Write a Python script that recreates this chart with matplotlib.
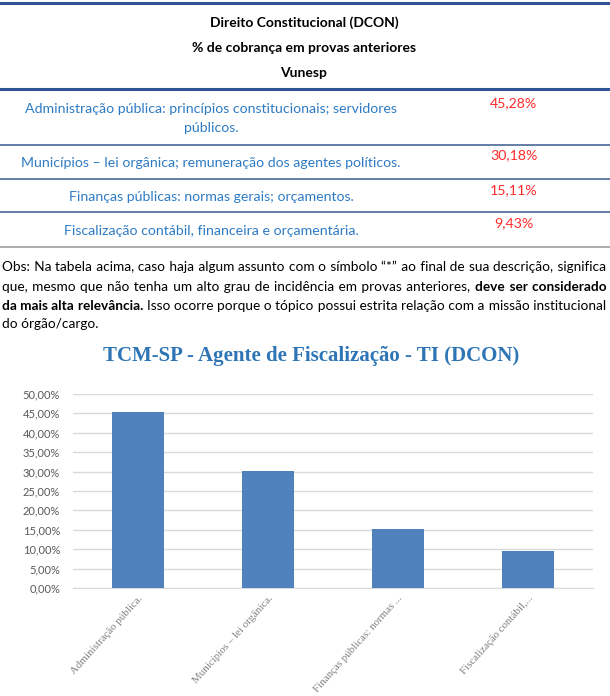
import matplotlib
matplotlib.use("Agg")
import matplotlib.pyplot as plt
from matplotlib.lines import Line2D
from matplotlib.ticker import FuncFormatter, MultipleLocator

# table / chart data
header_lines = ["Direito Constitucional (DCON)", "% de cobrança em provas anteriores", "Vunesp"]
topics = [
    "Administração pública: princípios constitucionais; servidores\npúblicos.",
    "Municípios – lei orgânica; remuneração dos agentes políticos.",
    "Finanças públicas: normas gerais; orçamentos.",
    "Fiscalização contábil, financeira e orçamentária.",
]
shares = [45.28, 30.18, 15.11, 9.43]
short_labels = ["Administração pública.", "Municípios – lei orgânica.",
                "Finanças públicas: normas ...", "Fiscalização contábil,..."]
chart_title = "TCM-SP - Agente de Fiscalização - TI (DCON)"

# observation paragraph: lines of (text, weight) chunks
obs_lines = [
    [("Obs: Na tabela acima, caso haja algum assunto com o símbolo “*” ao final de sua descrição, significa", 'normal')],
    [("que, mesmo que não tenha um alto grau de incidência em provas anteriores,", 'normal'),
     ("deve ser considerado", 'bold')],
    [("da mais alta relevância.", 'bold'),
     ("Isso ocorre porque o tópico possui estrita relação com a missão institucional", 'normal')],
    [("do órgão/cargo.", 'normal')],
]

W, H = 610, 696
plt.rcParams['font.family'] = ['Lato', 'DejaVu Sans']
fig = plt.figure(figsize=(W / 100, H / 100), dpi=100)
renderer = fig.canvas.get_renderer()


def fx(px):
    return px / W


def fy(py):
    return 1 - py / H


def hline(py, color, lw):
    fig.add_artist(Line2D([0, 1], [fy(py), fy(py)], transform=fig.transFigure,
                          color=color, lw=lw))


def text_w(s, size, weight):
    t = fig.text(0, 0, s, fontsize=size, fontweight=weight)
    w = t.get_window_extent(renderer).width
    t.remove()
    return w


# table
hline(3, '#2F5496', 2.2)
for i, txt in enumerate(header_lines):
    fig.text(fx(304), fy(23 + 25 * i), txt, ha='center', va='center',
             fontsize=10, fontweight='bold', color='black')
hline(89, '#2F5496', 2.2)

row_text_y = [109, 163, 197, 231]
row_val_y = [103, 155, 190, 223]
for i, (topic, val) in enumerate(zip(topics, shares)):
    for j, part in enumerate(topic.split('\n')):
        fig.text(fx(211), fy(row_text_y[i] + 19 * j), part, ha='center', va='center',
                 fontsize=10.2, color='#2E7BC4')
    fig.text(fx(514), fy(row_val_y[i]), f"{val:.2f}%".replace('.', ','), ha='center',
             va='center', fontsize=10.2, color='#FF2B2B')
for py in [145, 179, 212]:
    hline(py, '#3B5A8C', 1.1)
hline(247, '#A6A6A6', 1.3)

# justified paragraph: spaces widened with hair spaces
fs = 9.8
HAIR = '\u200a'
obs_base = [271, 291, 310, 328]
left, right = 2, 606
sp = text_w("x x", fs, 'normal') - text_w("xx", fs, 'normal')
hs = (text_w("x" + HAIR * 10 + "x", fs, 'normal') - text_w("xx", fs, 'normal')) / 10
for n, (line, py) in enumerate(zip(obs_lines, obs_base)):
    last = n == len(obs_lines) - 1
    nat = sum(text_w(c, fs, wt) for c, wt in line) + sp * (len(line) - 1)
    gaps = sum(len(c.split()) for c, _ in line) - 1
    extra = 0 if last else (right - left - nat) / gaps
    acc = 0.0
    xpos = left
    for ci, (chunk, wt) in enumerate(line):
        words = chunk.split()
        s = words[0]
        for w in words[1:]:
            acc += extra
            k = int(round(acc / hs))
            acc -= k * hs
            s += ' ' + HAIR * k + w
        t = fig.text(fx(xpos), fy(py), s, ha='left', va='baseline', fontsize=fs,
                     fontweight=wt, color='black')
        xpos += t.get_window_extent(renderer).width + sp + extra

# chart title
fig.text(fx(311), fy(356), chart_title, ha='center', va='center', fontsize=15,
         fontweight='bold', color='#2E75B6', family='Liberation Serif')

# bar chart
ax = fig.add_axes([fx(72.5), fy(588), fx(593) - fx(72.5), fy(394) - fy(588)])
x = list(range(len(shares)))
ax.bar(x, [v / 100 for v in shares], width=0.40, color='#4F81BD', zorder=3)
ax.set_xlim(-0.5, len(shares) - 0.5)
ax.set_ylim(0, 0.5)
ax.yaxis.set_major_locator(MultipleLocator(0.05))
ax.yaxis.set_major_formatter(FuncFormatter(lambda v, p: f"{v * 100:.2f}%".replace('.', ',')))
ax.grid(axis='y', color='#D9D9D9', lw=1, zorder=0)
for s in ['top', 'right', 'left']:
    ax.spines[s].set_visible(False)
ax.spines['bottom'].set_color('#D9D9D9')
ax.tick_params(axis='both', length=0, colors='#595959', labelsize=8)
ax.tick_params(axis='y', pad=9)
ax.tick_params(axis='x', pad=4)
ax.set_xticks(x)
ax.set_xticklabels(short_labels, rotation=48, ha='right', rotation_mode='anchor',
                   fontsize=7.8, color='#808080', family='Liberation Serif')

fig.savefig('out.png', dpi=100)
